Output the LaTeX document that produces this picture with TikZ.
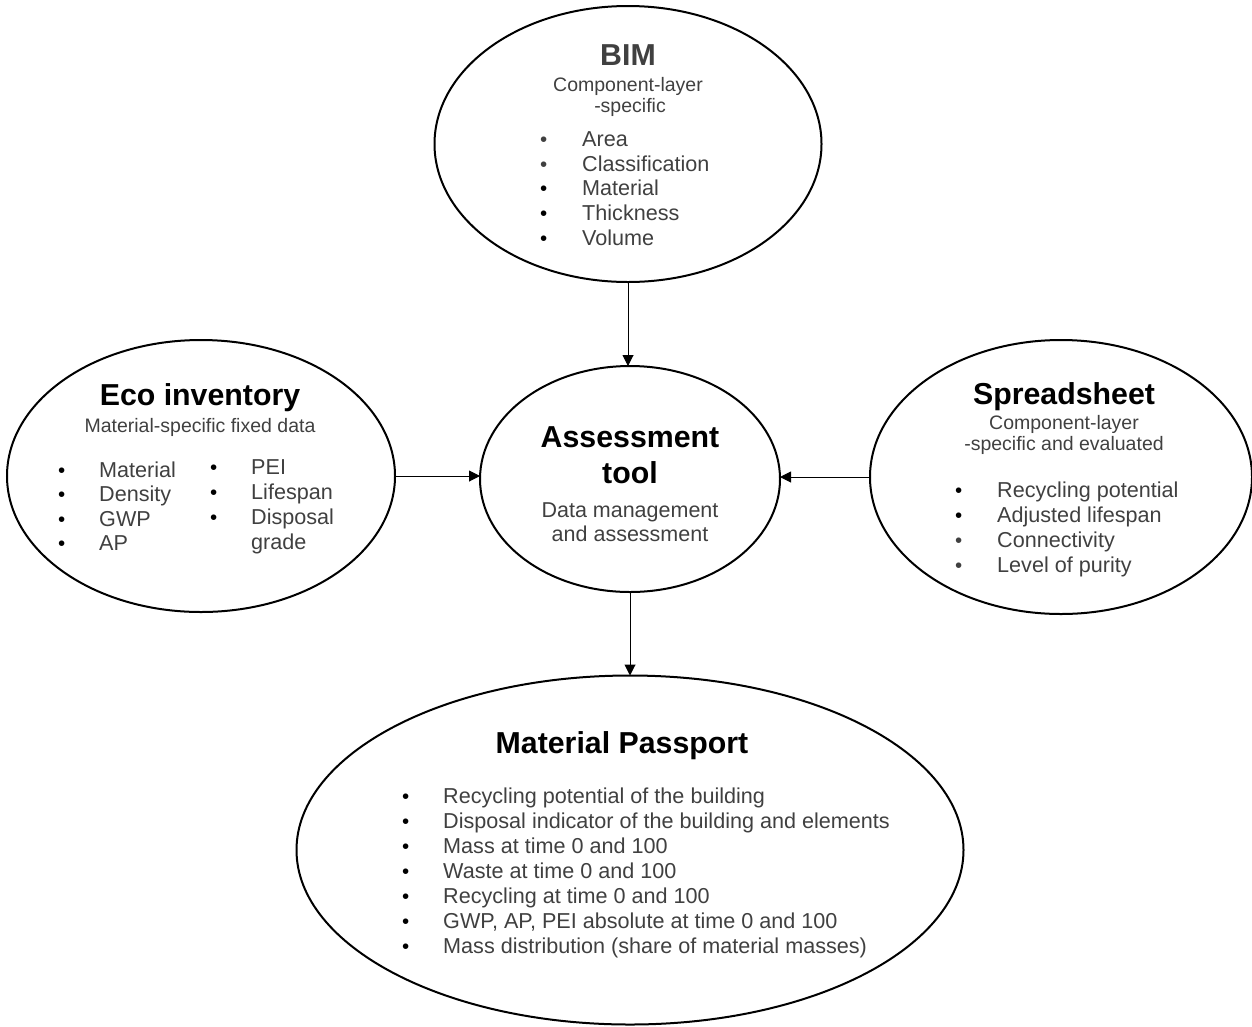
\documentclass[tikz,border=0pt]{standalone}
\usepackage{fontspec}
\setmainfont{Liberation Sans}
\usetikzlibrary{arrows.meta,shapes.geometric}
\definecolor{txtgray}{HTML}{404040}
\begin{document}
\begin{tikzpicture}[x=1pt,y=-1pt,
  ell/.style={draw=black,line width=2pt,ellipse,inner sep=0pt,outer sep=0pt},
  ttl/.style={anchor=base,inner sep=0pt,font=\fontsize{30.3}{36}\selectfont\bfseries},
  sub/.style={anchor=base,inner sep=0pt,text=txtgray,font=\fontsize{19.5}{23}\selectfont},
  itm/.style={anchor=base west,inner sep=0pt,text=txtgray,font=\fontsize{21.6}{25}\selectfont},
  bul/.style={anchor=base west,inner sep=0pt,font=\fontsize{20.5}{25}\selectfont},
  arr/.style={line width=1pt,-{Triangle[length=11pt,width=11pt]}}]
\useasboundingbox (0,0) rectangle (1252,1026);

% ellipses
\node[ell,minimum width=387pt,minimum height=276pt] (bim) at (628,144) {};
\node[ell,minimum width=388pt,minimum height=272pt] (eco) at (201,476) {};
\node[ell,minimum width=300pt,minimum height=226pt] (tool) at (630,479) {};
\node[ell,minimum width=382pt,minimum height=274pt] (sheet) at (1061,477) {};
\node[ell,minimum width=667pt,minimum height=349pt] (pass) at (630,850) {};

% BIM
\node[ttl,text=txtgray] (bimT) at (628,65) {BIM};
\node[sub] (bimS1) at (628,91) {Component-layer};
\node[sub] (bimS2) at (630,112) {-specific};
\node[bul,text=txtgray] (bimB1) at (540,146) {•};
\node[bul,text=txtgray] (bimB2) at (540,171) {•};
\node[bul] (bimB3) at (540,195) {•};
\node[bul] (bimB4) at (540,220) {•};
\node[bul] (bimB5) at (540,245) {•};
\node[itm] (bimI1) at (582,146) {Area};
\node[itm] (bimI2) at (582,171) {Classification};
\node[itm] (bimI3) at (582,195) {Material};
\node[itm] (bimI4) at (582,220) {Thickness};
\node[itm] (bimI5) at (582,245) {Volume};

% Eco inventory
\node[ttl] (ecoT) at (200,405) {Eco inventory};
\node[sub] (ecoS) at (200,432) {Material-specific fixed data};
\node[bul] (ecoB1) at (58,477) {•};
\node[bul] (ecoB2) at (58,501) {•};
\node[bul] (ecoB3) at (58,526) {•};
\node[bul] (ecoB4) at (58,550) {•};
\node[itm] (ecoI1) at (99,477) {Material};
\node[itm] (ecoI2) at (99,501) {Density};
\node[itm] (ecoI3) at (99,526) {GWP};
\node[itm] (ecoI4) at (99,550) {AP};
\node[bul] (ecoB5) at (210,474) {•};
\node[bul] (ecoB6) at (210,499) {•};
\node[bul] (ecoB7) at (210,524) {•};
\node[itm] (ecoI5) at (251,474) {PEI};
\node[itm] (ecoI6) at (251,499) {Lifespan};
\node[itm] (ecoI7) at (251,524) {Disposal};
\node[itm] (ecoI8) at (251,549) {grade};

% Assessment tool
\node[ttl] (toolT1) at (630,447) {Assessment};
\node[ttl] (toolT2) at (630,483) {tool};
\node[sub,font=\fontsize{21.5}{25}\selectfont] (toolS1) at (630,517) {Data management};
\node[sub,font=\fontsize{21.5}{25}\selectfont] (toolS2) at (630,541) {and assessment};

% Spreadsheet
\node[ttl] (sheetT) at (1064,404) {Spreadsheet};
\node[sub] (sheetS1) at (1064,429) {Component-layer};
\node[sub] (sheetS2) at (1064,450) {-specific and evaluated};
\node[bul] (sheetB1) at (955,497) {•};
\node[bul] (sheetB2) at (955,522) {•};
\node[bul,text=txtgray] (sheetB3) at (955,547) {•};
\node[bul,text=txtgray] (sheetB4) at (955,572) {•};
\node[itm] (sheetI1) at (997,497) {Recycling potential};
\node[itm] (sheetI2) at (997,522) {Adjusted lifespan};
\node[itm] (sheetI3) at (997,547) {Connectivity};
\node[itm] (sheetI4) at (997,572) {Level of purity};

% Material Passport
\node[ttl] (passT) at (622,753) {Material Passport};
\node[bul] (passB1) at (402,803) {•};
\node[bul] (passB2) at (402,828) {•};
\node[bul] (passB3) at (402,853) {•};
\node[bul] (passB4) at (402,878) {•};
\node[bul] (passB5) at (402,903) {•};
\node[bul] (passB6) at (402,928) {•};
\node[bul] (passB7) at (402,953) {•};
\node[itm] (passI1) at (443,803) {Recycling potential of the building};
\node[itm] (passI2) at (443,828) {Disposal indicator of the building and elements};
\node[itm] (passI3) at (443,853) {Mass at time 0 and 100};
\node[itm] (passI4) at (443,878) {Waste at time 0 and 100};
\node[itm] (passI5) at (443,903) {Recycling at time 0 and 100};
\node[itm] (passI6) at (443,928) {GWP, AP, PEI absolute at time 0 and 100};
\node[itm] (passI7) at (443,953) {Mass distribution (share of material masses)};

% connectors
\draw[arr] (bim.south) -- (bim.south |- tool.north);
\draw[arr] (eco.east) -- (eco.east -| tool.west);
\draw[arr] (sheet.west) -- (sheet.west -| tool.east);
\draw[arr] (tool.south) -- (pass.north);
\end{tikzpicture}
\end{document}
